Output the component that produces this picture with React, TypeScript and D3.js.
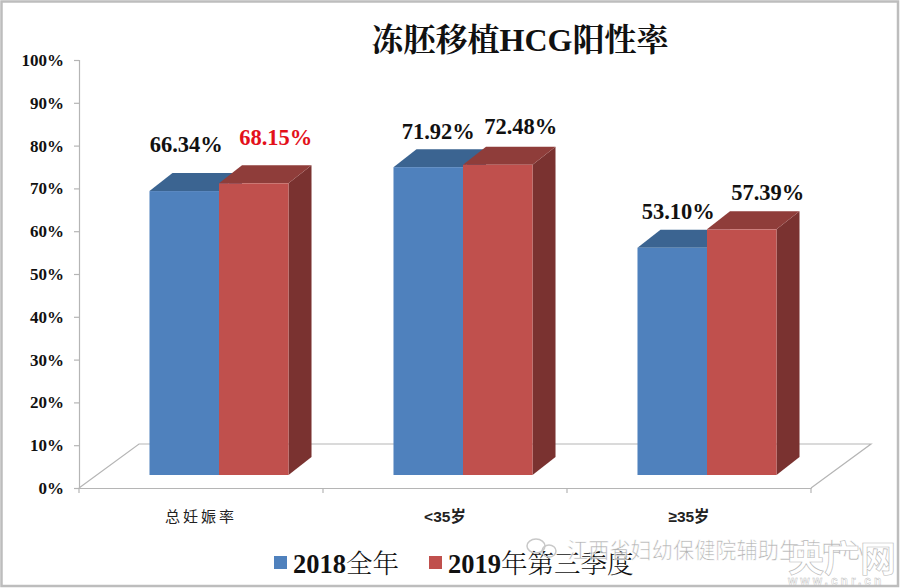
import { useEffect, useRef } from 'react';
import * as d3 from 'd3';

const categories = ['总妊娠率', '<35岁', '≥35岁'];
const seriesNames = ['2018全年', '2019年第三季度'];
const values2018 = [66.34, 71.92, 53.1];
const values2019 = [68.15, 72.48, 57.39];
const yTicks = [0, 10, 20, 30, 40, 50, 60, 70, 80, 90, 100];

const SERIF = '"Liberation Serif", "Noto Serif CJK SC", "Noto Sans CJK SC", serif';
const CJK_SERIF = '"Noto Serif CJK SC", "Noto Sans CJK SC", serif';
const SANS = '"Liberation Sans", "Noto Sans CJK SC", sans-serif';

const colors = [
  { front: '#4F81BD', top: '#3B6491', side: '#335A85' },
  { front: '#C0504D', top: '#8F3D3A', side: '#7A3230' },
];

export default function App() {
  const svgRef = useRef<SVGSVGElement>(null);

  useEffect(() => {
    if (!svgRef.current) return;
    const width = 900;
    const height = 588;
    const axisLeft = 79;
    const axisRight = 811;
    const floorDx = 60;
    const floorDy = 44;
    const frontLift = 13;
    const frontShift = 18;
    const barDx = 23;
    const barDy = 18;

    const svg = d3.select(svgRef.current);
    svg.selectAll('*').remove();

    svg.append('rect').attr('x', 1.5).attr('y', 1.5).attr('width', width - 3.5).attr('height', height - 3.5)
      .attr('fill', '#fff').attr('stroke', '#bdbdbd').attr('stroke-width', 2.5);

    const y = d3.scaleLinear().domain([0, 100]).range([488, 60]);
    const x0 = d3.scaleBand<string>().domain(categories).range([axisLeft, axisRight]);
    const x1 = d3.scaleBand<string>().domain(seriesNames).range([0, x0.bandwidth()]).paddingOuter(0.755);

    // floor of the 3d plot
    svg.append('path')
      .attr('fill', 'none')
      .attr('stroke', '#b5b5b5')
      .attr('stroke-width', 1.2)
      .attr('d', `M${axisLeft},${y(0)}L${axisLeft + floorDx},${y(0) - floorDy}H${axisRight + floorDx}L${axisRight},${y(0)}`);

    const yAxis = d3.axisLeft(y).tickValues(yTicks).tickFormat(d => `${d}%`).tickSize(5).tickPadding(10);
    const yG = svg.append('g').attr('transform', `translate(${axisLeft},0)`).call(yAxis);
    yG.selectAll('path,line').attr('stroke', '#b5b5b5').attr('stroke-width', 1.2);
    yG.selectAll('text')
      .attr('fill', '#111')
      .attr('font-family', SERIF)
      .attr('font-weight', 'bold')
      .attr('font-size', '17px');

    const xAxis = d3.axisBottom(x0).tickSize(0).tickPadding(23);
    const xG = svg.append('g').attr('transform', `translate(0,${y(0)})`).call(xAxis);
    xG.selectAll('path').attr('stroke', '#b5b5b5').attr('stroke-width', 1.2);
    xG.selectAll('text')
      .attr('fill', '#222')
      .attr('font-family', SANS)
      .attr('font-size', (_, i) => (i === 0 ? '15px' : '15.5px'))
      .attr('font-weight', (_, i) => (i === 0 ? 'normal' : 'bold'))
      .attr('letter-spacing', (_, i) => (i === 0 ? '3px' : '0'));

    const xEdges = [...categories.map(c => x0(c) as number), axisRight];
    svg.append('g').selectAll('line').data(xEdges).enter().append('line')
      .attr('x1', d => d).attr('x2', d => d)
      .attr('y1', y(0)).attr('y2', y(0) + 5)
      .attr('stroke', '#b5b5b5').attr('stroke-width', 1.2);

    const barHeight = (v: number) => y(0) - y(v);
    const baseY = y(0) - frontLift;
    const allValues = [values2018, values2019];

    categories.forEach((cat, ci) => {
      seriesNames.forEach((name, si) => {
        const v = allValues[si][ci];
        const left = (x0(cat) as number) + (x1(name) as number) + frontShift;
        const w = x1.bandwidth();
        const top = baseY - barHeight(v);
        const c = colors[si];
        const g = svg.append('g');
        g.append('path').attr('fill', c.side)
          .attr('d', `M${left + w},${top}l${barDx},${-barDy}V${baseY - barDy}L${left + w},${baseY}Z`);
        g.append('path').attr('fill', c.top)
          .attr('d', `M${left},${top}l${barDx},${-barDy}h${w}l${-barDx},${barDy}Z`);
        g.append('rect').attr('x', left).attr('y', top).attr('width', w).attr('height', baseY - top).attr('fill', c.front);
      });
    });

    // value labels were placed by hand in the original, so each has its own nudge
    const labelNudge = [
      [[2, -39], [22, -38]],
      [[10, -28], [23, -31]],
      [[6, -29], [26, -29]],
    ];
    categories.forEach((cat, ci) => {
      seriesNames.forEach((name, si) => {
        const v = allValues[si][ci];
        const [nx, ny] = labelNudge[ci][si];
        const left = (x0(cat) as number) + (x1(name) as number) + frontShift;
        svg.append('text')
          .attr('x', left + x1.bandwidth() / 2 + nx)
          .attr('y', baseY - barHeight(v) + ny)
          .attr('text-anchor', 'middle')
          .attr('font-family', SERIF)
          .attr('font-weight', 'bold')
          .attr('font-size', '22.5px')
          .attr('fill', ci === 0 && si === 1 ? '#E3101A' : '#111')
          .text(`${v.toFixed(2)}%`);
      });
    });

    svg.append('text')
      .attr('x', 520).attr('y', 51)
      .attr('text-anchor', 'middle')
      .attr('font-family', SERIF)
      .attr('font-weight', 'bold')
      .attr('font-size', '32px')
      .attr('fill', '#111')
      .text('冻胚移植HCG阳性率');

    const legendX = [274, 429];
    seriesNames.forEach((name, i) => {
      svg.append('rect').attr('x', legendX[i]).attr('y', 556).attr('width', 13).attr('height', 13).attr('fill', colors[i].front);
      const t = svg.append('text')
        .attr('x', legendX[i] + 19).attr('y', 573)
        .attr('font-size', '26.5px').attr('fill', '#111');
      t.append('tspan').attr('font-family', SERIF).attr('font-weight', 'bold').text(name.slice(0, 4));
      t.append('tspan').attr('font-family', CJK_SERIF).attr('font-weight', 300).text(name.slice(4));
    });

    // watermarks
    const wm = svg.append('g');
    wm.append('text')
      .attr('x', 567).attr('y', 558)
      .attr('font-family', SANS).attr('font-size', '21.2px')
      .attr('fill', '#9a9a9a').attr('fill-opacity', 0.75)
      .attr('stroke', '#fff').attr('stroke-width', 0.6)
      .text('江西省妇幼保健院辅助生殖中心');
    wm.append('ellipse').attr('cx', 536).attr('cy', 546).attr('rx', 9).attr('ry', 7)
      .attr('fill', 'none').attr('stroke', '#c8c8c8').attr('stroke-width', 1.5);
    wm.append('ellipse').attr('cx', 549).attr('cy', 551).attr('rx', 7).attr('ry', 6)
      .attr('fill', 'none').attr('stroke', '#c8c8c8').attr('stroke-width', 1.5);
    wm.append('text')
      .attr('x', 788).attr('y', 572)
      .attr('font-family', SANS).attr('font-weight', 'bold').attr('font-size', '36px')
      .attr('fill', '#fff').attr('stroke', '#b8b8b8').attr('stroke-width', 0.6)
      .text('央广网');
    wm.append('text')
      .attr('x', 788).attr('y', 585)
      .attr('font-family', SANS).attr('font-weight', 'bold').attr('font-size', '12px')
      .attr('letter-spacing', '3px')
      .attr('fill', '#fff').attr('stroke', '#b8b8b8').attr('stroke-width', 0.4)
      .text('www.cnr.cn');
  }, []);

  return <svg ref={svgRef} width={900} height={588} style={{ position: 'absolute', left: 0, top: 0 }} />;
}
